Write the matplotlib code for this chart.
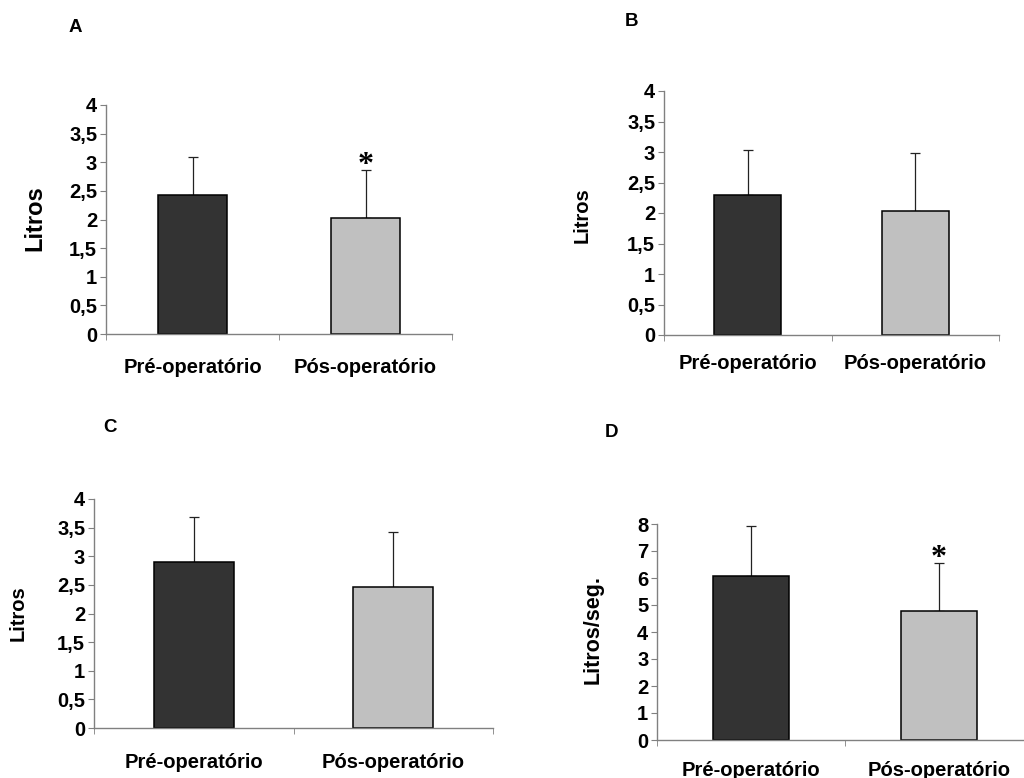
import matplotlib
matplotlib.use("Agg")
import matplotlib.pyplot as plt
from matplotlib.ticker import FuncFormatter, FixedLocator
import numpy as np

plt.rcParams["font.family"] = ["Liberation Sans", "DejaVu Sans"]
plt.rcParams["font.weight"] = "bold"

categories = ["Pré-operatório", "Pós-operatório"]

# mean and upper error (SD) per panel
vals_a = [2.42, 2.02]
err_a = [0.67, 0.84]
vals_b = [2.30, 2.04]
err_b = [0.74, 0.95]
vals_c = [2.90, 2.47]
err_c = [0.79, 0.95]
vals_d = [6.07, 4.77]
err_d = [1.87, 1.78]

ylims = {"A": (4, 0.5), "B": (4, 0.5), "C": (4, 0.5), "D": (8, 1)}
ylabels = {"A": "Litros", "B": "Litros", "C": "Litros", "D": "Litros/seg."}
stars = {"A": [False, True], "B": [False, False], "C": [False, False],
         "D": [False, True]}

bar_colors = ["#333333", "#c0c0c0"]
spine_color = "#808080"

W, H = 1024, 778
fig = plt.figure(figsize=(W / 100, H / 100), dpi=100)

# axes boxes in pixels: left, right, top(y of max), bottom(y of 0)
boxes = {"A": (106, 452, 105, 334), "B": (664, 999, 91, 335),
         "C": (94, 493, 499, 728), "D": (657, 1033, 524, 740)}
xlab_pad = {"A": 17, "B": 14, "C": 18, "D": 15}
ylab_pos = {"A": (35, 218), "B": (582, 215), "C": (18, 613), "D": (593, 630)}
ylab_size = {"A": 17, "B": 14.5, "C": 14.5, "D": 15.5}
letter_pos = {"A": (75, 28), "B": (632, 22), "C": (110, 428), "D": (611, 432)}

data = {"A": (vals_a, err_a), "B": (vals_b, err_b),
        "C": (vals_c, err_c), "D": (vals_d, err_d)}

def comma(v, pos):
    s = ("%g" % v)
    return s.replace(".", ",")

for key in ["A", "B", "C", "D"]:
    l, r, t, b = boxes[key]
    ax = fig.add_axes([l / W, 1 - b / H, (r - l) / W, (b - t) / H])
    vals, errs = data[key]
    x = np.arange(len(categories))
    ax.bar(x, vals, width=0.4, color=bar_colors, edgecolor="black",
           linewidth=1.1, zorder=2)
    ax.errorbar(x, vals, yerr=[[0] * len(errs), errs], fmt="none",
                ecolor="#222222", elinewidth=0.9, capsize=3.6,
                capthick=0.9, zorder=1)
    for i, s in enumerate(stars[key]):
        if s:
            ax.annotate("*", (x[i], vals[i] + errs[i]), xytext=(0, -7),
                        textcoords="offset points", ha="center",
                        va="bottom", fontsize=23, fontweight="bold",
                        family="Liberation Serif")
    ymax, step = ylims[key]
    ax.set_ylim(0, ymax)
    ax.set_xlim(-0.5, 1.5)
    ax.yaxis.set_major_locator(FixedLocator(np.arange(0, ymax + step / 2, step)))
    ax.yaxis.set_major_formatter(FuncFormatter(comma))
    ax.set_xticks(x)
    ax.set_xticklabels(categories)
    ax.set_xticks([-0.5, 0.5, 1.5], minor=True)
    ax.tick_params(axis="x", which="major", length=0, pad=xlab_pad[key],
                   labelsize=14.5)
    ax.tick_params(axis="x", which="minor", length=4.3, color=spine_color,
                   direction="out")
    ax.tick_params(axis="y", length=4.3, color=spine_color, pad=2,
                   labelsize=14.5)
    for sp in ["top", "right"]:
        ax.spines[sp].set_visible(False)
    for sp in ["left", "bottom"]:
        ax.spines[sp].set_color(spine_color)
        ax.spines[sp].set_linewidth(1)
    px, py = ylab_pos[key]
    fig.text(px / W, 1 - py / H, ylabels[key], rotation=90, ha="center",
             va="center", fontsize=ylab_size[key], fontweight="bold")
    lx, ly = letter_pos[key]
    fig.text(lx / W, 1 - ly / H, key, ha="center", va="center",
             fontsize=13.5, fontweight="bold")

fig.savefig("out.png", dpi=100)
